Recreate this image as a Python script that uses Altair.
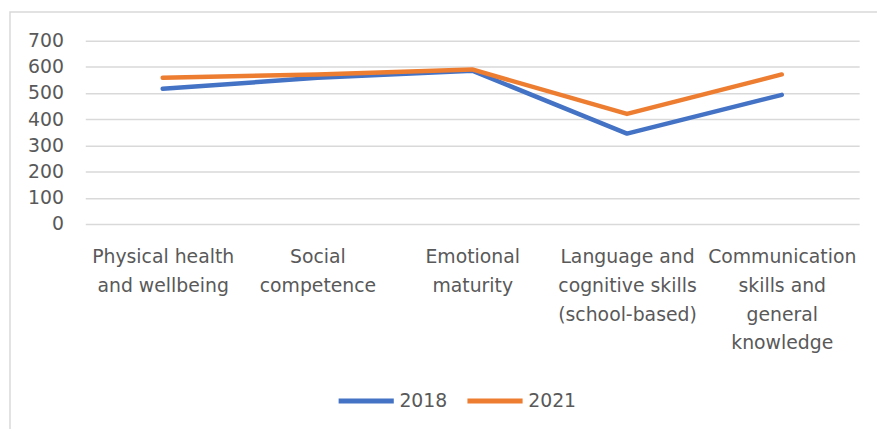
import altair as alt
import pandas as pd

categories = [
    "Physical health and wellbeing",
    "Social competence",
    "Emotional maturity",
    "Language and cognitive skills (school-based)",
    "Communication skills and general knowledge",
]
label_lines = [
    ["Physical health", "and wellbeing"],
    ["Social", "competence"],
    ["Emotional", "maturity"],
    ["Language and", "cognitive skills", "(school-based)"],
    ["Communication", "skills and", "general", "knowledge"],
]
values_2018 = [516, 558, 585, 345, 493]
values_2021 = [558, 571, 590, 420, 571]
years = ["2018", "2021"]
colors = ["#4472C4", "#ED7D31"]
y_ticks = [0, 100, 200, 300, 400, 500, 600, 700]

rows = []
for c, v in zip(categories, values_2018):
    rows.append({"category": c, "year": "2018", "value": v})
for c, v in zip(categories, values_2021):
    rows.append({"category": c, "year": "2021", "value": v})
df = pd.DataFrame(rows)

# build label expression mapping category -> list of lines
expr = "''"
for c, lines in reversed(list(zip(categories, label_lines))):
    arr = "[" + ",".join("'" + s + "'" for s in lines) + "]"
    expr = f"datum.label == '{c}' ? {arr} : ({expr})"

FONT = "DejaVu Sans"
GREY = "#595959"
FS = 19

lines = alt.Chart(df).mark_line(strokeWidth=4.5, strokeCap="round", strokeJoin="round").encode(
    x=alt.X("category:N", sort=categories, title=None,
            axis=alt.Axis(labelExpr=expr, labelAngle=0, labelAlign="center",
                          labelBaseline="top", labelPadding=24, labelLineHeight=29,
                          labelFontSize=FS, labelColor=GREY, labelFont=FONT,
                          labelLimit=400, ticks=False, domain=False, grid=False)),
    y=alt.Y("value:Q", title=None,
            scale=alt.Scale(domain=[0, 700], nice=False),
            axis=alt.Axis(values=y_ticks, labelFontSize=FS, labelColor=GREY, labelFont=FONT,
                          labelPadding=22, ticks=False, domain=False,
                          gridColor="#d9d9d9", gridWidth=1.5)),
    color=alt.Color("year:N", scale=alt.Scale(domain=years, range=colors), title=None,
                    legend=alt.Legend(orient="none", legendX=253, legendY=333,
                                      direction="horizontal", symbolType="stroke",
                                      symbolSize=3100, symbolStrokeWidth=5,
                                      labelFontSize=FS, labelColor=GREY, labelFont=FONT,
                                      labelOffset=3, columnPadding=9)),
)

frame = alt.Chart(pd.DataFrame({"f": [0]})).mark_rect(filled=False, stroke="#d9d9d9", strokeWidth=1.5).encode(
    x=alt.value(-76), x2=alt.value(900), y=alt.value(-29), y2=alt.value(500)
)

chart = alt.layer(frame, lines).properties(
    width=781, height=185,
    autosize=alt.AutoSizeParams(type="none"),
    padding={"left": 78, "top": 31, "right": 18, "bottom": 205},
).configure_view(stroke=None)

chart.save("out.html", embed_options={"renderer": "svg", "actions": False})
